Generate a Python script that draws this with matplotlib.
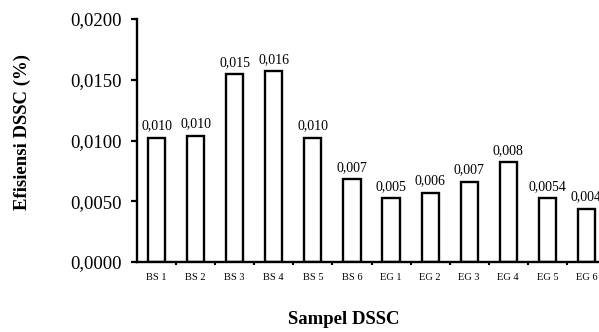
import matplotlib
matplotlib.use("Agg")
import matplotlib.pyplot as plt
import numpy as np

categories = ["BS 1", "BS 2", "BS 3", "BS 4", "BS 5", "BS 6",
              "EG 1", "EG 2", "EG 3", "EG 4", "EG 5", "EG 6"]
values = [0.0102, 0.0104, 0.01545, 0.0157, 0.0102, 0.0068,
          0.00524, 0.0057, 0.0066, 0.0082, 0.00524, 0.00436]
value_labels = ["0,010", "0,010", "0,015", "0,016", "0,010", "0,007",
                "0,005", "0,006", "0,007", "0,008", "0,0054", "0,004"]
yticks = [0.0, 0.005, 0.010, 0.015, 0.020]
ytick_labels = ["0,0000", "0,0050", "0,0100", "0,0150", "0,0200"]

plt.rcParams['font.family'] = ['Liberation Serif', 'DejaVu Serif']

fig = plt.figure(figsize=(5.99, 3.32), dpi=100)
ax = fig.add_axes([137/599, 70/332, 469/599, 243/332])

x = np.arange(len(categories))
ax.bar(x, values, width=0.44, color='white', edgecolor='black', linewidth=1.7)

for xi, v, lab in zip(x, values, value_labels):
    ax.annotate(lab, (xi, v), xytext=(0, 4), textcoords='offset points',
                ha='center', va='bottom', fontsize=10)

ax.set_xlim(-0.5, len(categories) - 0.5)
ax.set_ylim(0, 0.02)
ax.set_yticks(yticks)
ax.set_yticklabels(ytick_labels, fontsize=13.5)
ax.set_xticks(x)
ax.set_xticklabels(categories, fontsize=7.5)
ax.tick_params(axis='x', length=0, pad=8)
ax.set_xticks(np.arange(len(categories)) + 0.5, minor=True)
ax.tick_params(axis='x', which='minor', length=2, width=1.5, direction='out')
ax.tick_params(axis='y', length=4, width=1.6, direction='out', pad=7)

for side in ['top', 'right']:
    ax.spines[side].set_visible(False)
for side in ['left', 'bottom']:
    ax.spines[side].set_linewidth(1.7)

fig.text(22/599, 1 - 131.5/332, "Efisiensi DSSC (%)", rotation=90,
         ha='center', va='center', fontsize=13.5, fontweight='bold')
fig.text(343.5/599, 1 - 319/332, "Sampel DSSC", ha='center', va='center',
         fontsize=13.5, fontweight='bold')

fig.savefig("out.png", dpi=100)
